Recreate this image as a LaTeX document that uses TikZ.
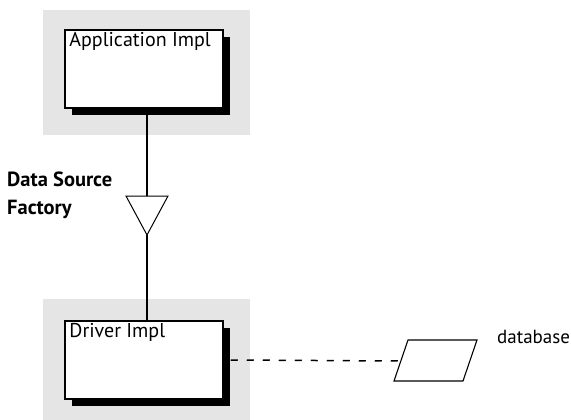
\documentclass[tikz,border=0pt]{standalone}
\usepackage{fontspec}
\setmainfont{PT Sans}
\usetikzlibrary{positioning,shadows}

\begin{document}
\begin{tikzpicture}[x=1pt,y=-1pt,
	zone/.style={fill=gray!20},
	implbox/.style={draw, line width=1.5pt, fill=white, minimum width=158pt, minimum height=78pt, inner sep=0pt,
		drop shadow={shadow xshift=7pt, shadow yshift=-7pt, fill=black, opacity=1}},
	boxtitle/.style={font=\fontsize{20}{24}\selectfont, inner xsep=5pt, inner ysep=3pt},
	link/.style={line width=1.8pt}]
	\useasboundingbox (0,0) rectangle (571,420);
	
	\fill[zone] (43,10) rectangle (250,135);
	\fill[zone] (43,299) rectangle (250,420);
	
	\node[implbox, label={[boxtitle, anchor=north west]north west:Application Impl}] (app) at (144,69) {};
	\node[implbox, label={[boxtitle, anchor=north west]north west:Driver Impl}] (drv) at (144,360) {};
	
	% factory triangle
	\coordinate (tritop) at (147,196);
	\coordinate (triapex) at (147,235);
	\draw[line width=1pt, fill=white] (126,196) -- (168,196) -- (triapex) -- cycle;
	\draw[link] (app.south -| tritop) -- (tritop);
	\draw[link] (triapex) -- (drv.north -| triapex);
	\node[font=\bfseries\fontsize{20.5}{28}\selectfont, align=left, anchor=north west, inner sep=0pt] (factory) at (7,172) {Data Source\\Factory};
	
	% database
	\draw[line width=1.1pt] (408,340) -- (477,340) -- (463,381) -- (394,381) -- cycle;
	\coordinate (dbleft) at (401,361);
	\draw[line width=1.5pt, dash pattern=on 7pt off 9pt] ([xshift=7pt]drv.east) -- (dbleft);
	\node[font=\fontsize{19}{22}\selectfont, anchor=base west, inner sep=0pt] (dblabel) at (497,343) {database};
\end{tikzpicture}
\end{document}
